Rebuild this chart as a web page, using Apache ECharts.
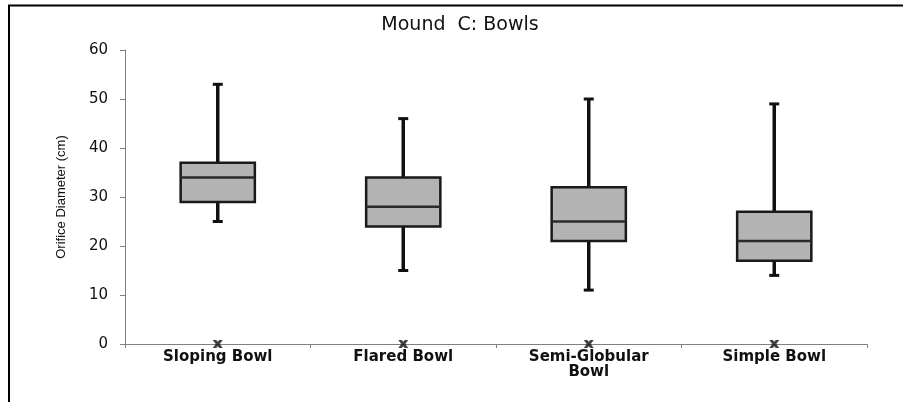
<!DOCTYPE html>
<html>
<head>
<meta charset="utf-8">
<title>Mound C: Bowls</title>
<script src="https://cdn.jsdelivr.net/npm/echarts@6/dist/echarts.min.js"></script>
<style>
  html, body { margin: 0; padding: 0; background: #fff; }
  #chart { width: 903px; height: 402px; }
</style>
</head>
<body>
<div id="chart"></div>
<script>
// Bowl types along the x axis
const categories = ['Sloping Bowl', 'Flared Bowl', 'Semi-Globular\nBowl', 'Simple Bowl'];
// Five-number summaries of orifice diameter (cm)
const minValues    = [25, 15, 11, 14];
const q1Values     = [29, 24, 21, 17];
const medianValues = [34, 28, 25, 21];
const q3Values     = [37, 34, 32, 27];
const maxValues    = [53, 46, 50, 49];
// Cross markers sitting on the baseline
const markerValues = [0, 0, 0, 0];
// Value axis ticks
const yTicks = { min: 0, max: 60, interval: 10 };

const boxData = categories.map((c, i) => [i, minValues[i], q1Values[i], medianValues[i], q3Values[i], maxValues[i]]);
const markerData = categories.map((c, i) => [i, markerValues[i]]);

const chart = echarts.init(document.getElementById('chart'), null, { renderer: 'canvas' });

function renderBox(params, api) {
  const idx = api.value(0);
  const pLow = api.coord([idx, api.value(1)]);
  const pQ1 = api.coord([idx, api.value(2)]);
  const pMed = api.coord([idx, api.value(3)]);
  const pQ3 = api.coord([idx, api.value(4)]);
  const pHigh = api.coord([idx, api.value(5)]);
  const bandW = api.size([1, 0])[0];
  const boxW = bandW * 0.4;
  const capW = 10;
  const x = pMed[0];
  const lineStyle = { stroke: '#111', lineWidth: 3.5 };
  return {
    type: 'group',
    children: [
      { type: 'line', shape: { x1: x, y1: pHigh[1], x2: x, y2: pQ3[1] }, style: lineStyle },
      { type: 'line', shape: { x1: x, y1: pQ1[1], x2: x, y2: pLow[1] }, style: lineStyle },
      { type: 'line', shape: { x1: x - capW / 2, y1: pHigh[1], x2: x + capW / 2, y2: pHigh[1] }, style: { stroke: '#111', lineWidth: 3 } },
      { type: 'line', shape: { x1: x - capW / 2, y1: pLow[1], x2: x + capW / 2, y2: pLow[1] }, style: { stroke: '#111', lineWidth: 3 } },
      { type: 'rect', shape: { x: x - boxW / 2, y: pQ3[1], width: boxW, height: pQ1[1] - pQ3[1] },
        style: { fill: '#b3b3b3', stroke: '#1a1a1a', lineWidth: 2.5 } },
      { type: 'line', shape: { x1: x - boxW / 2, y1: pMed[1], x2: x + boxW / 2, y2: pMed[1] },
        style: { stroke: '#2a2a2a', lineWidth: 2.5 } }
    ]
  };
}

const option = {
  animation: false,
  backgroundColor: '#fff',
  graphic: [
    { type: 'line', shape: { x1: 8, y1: 5.5, x2: 903, y2: 5.5 }, style: { stroke: '#000', lineWidth: 2 } },
    { type: 'line', shape: { x1: 9, y1: 5, x2: 9, y2: 402 }, style: { stroke: '#000', lineWidth: 2 } },
    { type: 'text', x: 460, y: 25,
      style: { text: 'Mound  C: Bowls', align: 'center', verticalAlign: 'middle',
               fontFamily: 'DejaVu Sans', fontSize: 19, fill: '#111' } }
  ],
  grid: { left: 125, right: 36, top: 50, bottom: 58 },
  xAxis: {
    type: 'category',
    data: categories,
    axisLine: { lineStyle: { color: '#808080', width: 1 } },
    axisTick: { show: true, length: 4, lineStyle: { color: '#808080' } },
    axisLabel: { color: '#111', fontFamily: 'DejaVu Sans', fontWeight: 'bold', fontSize: 15,
                 margin: 6, lineHeight: 15, interval: 0 },
    splitLine: { show: false }
  },
  yAxis: {
    type: 'value',
    min: yTicks.min, max: yTicks.max, interval: yTicks.interval,
    name: 'Orifice Diameter (cm)',
    nameLocation: 'middle',
    nameGap: 57,
    nameRotate: 90,
    nameTextStyle: { fontFamily: 'Liberation Sans Narrow, Liberation Sans', fontSize: 13, color: '#111' },
    axisLine: { show: true, lineStyle: { color: '#808080', width: 1 } },
    axisTick: { show: true, length: 5, lineStyle: { color: '#808080' } },
    axisLabel: { color: '#111', fontFamily: 'DejaVu Sans', fontSize: 15, margin: 17 },
    splitLine: { show: false }
  },
  series: [
    {
      type: 'custom',
      name: 'Orifice diameter',
      renderItem: renderBox,
      encode: { x: 0, y: [1, 2, 3, 4, 5] },
      data: boxData,
      z: 2
    },
    {
      type: 'scatter',
      name: 'Baseline marker',
      symbol: 'path://M0,0 L3.5,0 L5,1.8 L6.5,0 L10,0 L7,4 L10,8 L6.5,8 L5,6.2 L3.5,8 L0,8 L3,4 Z',
      symbolSize: [10, 8],
      itemStyle: { color: '#111' },
      data: markerData,
      z: 3
    }
  ]
};

chart.setOption(option);
</script>
</body>
</html>
